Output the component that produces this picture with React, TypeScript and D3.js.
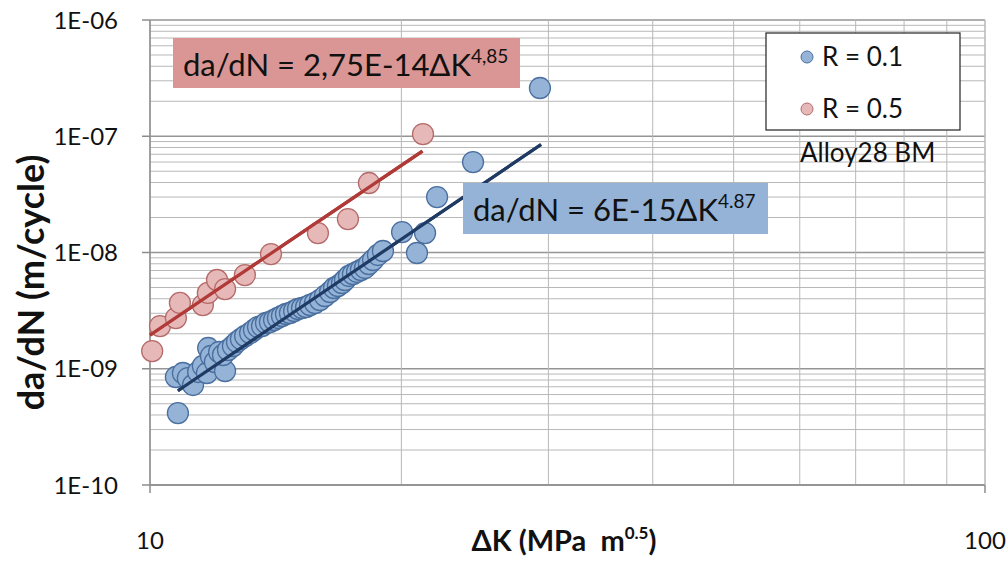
import React from "react";
import * as d3 from "d3";

// ---- Data ----
const seriesR01Label = "R = 0.1";
const seriesR05Label = "R = 0.5";

// R = 0.5 : [ΔK (MPa m^0.5), da/dN (m/cycle)]
const dataR05: [number, number][] = [
  [10.06, 1.42e-9], [10.28, 2.33e-9], [10.74, 2.73e-9], [10.86, 3.68e-9],
  [11.57, 3.53e-9], [11.73, 4.49e-9], [12.03, 5.8e-9], [12.3, 4.85e-9],
  [12.99, 6.4e-9], [13.96, 9.7e-9], [15.89, 1.47e-8], [17.26, 1.94e-8],
  [18.29, 3.96e-8], [21.23, 1.045e-7],
];

// R = 0.1
const dataR01: [number, number][] = [
  [10.8, 4.16e-10], [10.74, 8.49e-10], [10.95, 9.19e-10], [11.1, 8.32e-10],
  [11.26, 7.25e-10], [11.42, 9.38e-10], [11.57, 1.056e-9], [11.7, 9.19e-10],
  [11.74, 1.508e-9], [11.83, 1.287e-9], [11.96, 1.143e-9], [12.1, 1.393e-9],
  [12.3, 9.56e-10], [12.23, 1.313e-9], [12.4, 1.45e-9], [12.57, 1.569e-9],
  [12.71, 1.699e-9], [12.85, 1.803e-9], [13.0, 1.913e-9], [13.18, 2.03e-9],
  [13.32, 2.154e-9], [13.47, 2.286e-9], [13.62, 2.332e-9], [13.77, 2.475e-9],
  [13.92, 2.524e-9], [14.08, 2.626e-9], [14.23, 2.733e-9], [14.39, 2.843e-9],
  [14.55, 2.958e-9], [14.71, 3.017e-9], [14.88, 3.139e-9], [15.04, 3.266e-9],
  [15.21, 3.331e-9], [15.38, 3.398e-9], [15.55, 3.535e-9], [15.76, 3.678e-9],
  [15.98, 3.903e-9], [16.2, 4.224e-9], [16.43, 4.573e-9], [16.61, 4.95e-9],
  [16.79, 5.15e-9], [16.98, 5.465e-9], [17.12, 5.8e-9], [17.31, 6.28e-9],
  [17.5, 6.53e-9], [17.7, 6.8e-9], [17.89, 7.07e-9], [18.09, 7.36e-9],
  [18.29, 7.96e-9], [18.5, 8.62e-9], [18.75, 9.52e-9], [19.01, 1.03e-8],
  [20.04, 1.5e-8], [20.88, 9.9e-9], [21.35, 1.47e-8], [22.07, 3.0e-8],
  [24.37, 6.0e-8], [29.31, 2.6e-7],
];

// Power-law fits da/dN = C * ΔK^m
const fitR05 = { C: 2.75e-14, m: 4.85, kMin: 10, kMax: 21.2 };
const fitR01 = { C: 6e-15, m: 4.87, kMin: 10.8, kMax: 29.4 };
const eqR05Main = "da/dN = 2,75E-14ΔK";
const eqR05Exp = "4,85";
const eqR01Main = "da/dN = 6E-15ΔK";
const eqR01Exp = "4.87";

const xTickValues = [10, 100];
const xTickLabels = ["10", "100"];
const yTickValues = [1e-10, 1e-9, 1e-8, 1e-7, 1e-6];
const yTickLabels = ["1E-10", "1E-09", "1E-08", "1E-07", "1E-06"];
const annotation = "Alloy28 BM";

// ---- Layout ----
const W = 1007;
const H = 561;
const L = 150, R = 985, T = 20, B = 485;
const FONT = "Lato, 'Open Sans', sans-serif";

export default function App() {
  const x = d3.scaleLog().domain([10, 100]).range([L, R]);
  const y = d3.scaleLog().domain([1e-10, 1e-6]).range([B, T]);

  const vGrid: number[] = [];
  for (let k = 10; k <= 100; k += 10) vGrid.push(k);
  const hMinor: number[] = [];
  for (let e = -10; e < -6; e++) {
    for (let m = 2; m <= 9; m++) hMinor.push(m * Math.pow(10, e));
  }

  const fitLine = (f: { C: number; m: number; kMin: number; kMax: number }) => {
    const pts: [number, number][] = [f.kMin, f.kMax].map((k) => [k, f.C * Math.pow(k, f.m)]);
    return d3.line<[number, number]>().x((d) => x(d[0])).y((d) => y(d[1]))(pts) || "";
  };

  const blueFill = "#95b3d7";
  const blueStroke = "#4a6f9f";
  const redFill = "#e6b9b8";
  const redStroke = "#b56b6a";

  return (
    <svg width={W} height={H} style={{ position: "absolute", left: 0, top: 0, background: "#fff" }} fontFamily={FONT}>
      {/* minor horizontal grid */}
      {hMinor.map((v, i) => (
        <line key={"hm" + i} x1={L} x2={R} y1={y(v)} y2={y(v)} stroke="#b8b8b8" strokeWidth={1} />
      ))}
      {/* major horizontal grid */}
      {yTickValues.map((v, i) => (
        <line key={"hM" + i} x1={L} x2={R} y1={y(v)} y2={y(v)} stroke="#959595" strokeWidth={1.3} />
      ))}
      {/* vertical grid */}
      {vGrid.map((v, i) => (
        <line key={"v" + i} x1={x(v)} x2={x(v)} y1={T} y2={B} stroke="#b8b8b8" strokeWidth={1} />
      ))}
      {/* axes */}
      <line x1={L} x2={L} y1={T} y2={B} stroke="#8c8c8c" strokeWidth={1.5} />
      <line x1={L} x2={R} y1={B} y2={B} stroke="#8c8c8c" strokeWidth={1.5} />
      <line x1={R} x2={R} y1={T} y2={B} stroke="#b8b8b8" strokeWidth={1} />
      {yTickValues.map((v, i) => (
        <line key={"yt" + i} x1={L - 8} x2={L} y1={y(v)} y2={y(v)} stroke="#8c8c8c" strokeWidth={1.5} />
      ))}
      {xTickValues.map((v, i) => (
        <line key={"xt" + i} x1={x(v)} x2={x(v)} y1={B} y2={B + 8} stroke="#8c8c8c" strokeWidth={1.5} />
      ))}
      {/* tick labels */}
      {yTickValues.map((v, i) => (
        <text key={"yl" + i} x={L - 32} y={y(v)} dy="0.36em" textAnchor="end" fontSize={24} fill="#111">
          {yTickLabels[i]}
        </text>
      ))}
      {xTickValues.map((v, i) => (
        <text key={"xl" + i} x={x(v)} y={549} textAnchor="middle" fontSize={24} fill="#111">
          {xTickLabels[i]}
        </text>
      ))}
      {/* axis titles */}
      <text transform={`translate(44,${(T + B) / 2 + 30}) rotate(-90)`} textAnchor="middle" fontSize={36} fontWeight="bold" fill="#111">
        da/dN (m/cycle)
      </text>
      <text x={564} y={551} textAnchor="middle" fontSize={29} fontWeight="bold" fill="#111" style={{ whiteSpace: "pre" }}>
        {"ΔK (MPa  m"}
        <tspan fontSize={17} dy={-12}>0.5</tspan>
        <tspan dy={12}>)</tspan>
      </text>

      {/* trend lines */}
      <path d={fitLine(fitR05)} stroke="#b03a37" strokeWidth={3.2} fill="none" />
      <path d={fitLine(fitR01)} stroke="#1f3a63" strokeWidth={3.2} fill="none" />

      {/* points */}
      {dataR05.map((d, i) => (
        <circle key={"r" + i} cx={x(d[0])} cy={y(d[1])} r={10.5} fill={redFill} stroke={redStroke} strokeWidth={1.3} />
      ))}
      {dataR01.map((d, i) => (
        <circle key={"b" + i} cx={x(d[0])} cy={y(d[1])} r={10.5} fill={blueFill} stroke={blueStroke} strokeWidth={1.3} />
      ))}
      {/* fit drawn over markers */}
      <path d={fitLine(fitR05)} stroke="#b03a37" strokeWidth={3.2} fill="none" />
      <path d={fitLine(fitR01)} stroke="#1f3a63" strokeWidth={3.2} fill="none" />

      {/* equation labels */}
      <rect x={173} y={38} width={347} height={50} fill="#d99694" />
      <text x={183} y={76} fontSize={31} fill="#111">
        {eqR05Main}
        <tspan fontSize={19} dy={-13}>{eqR05Exp}</tspan>
      </text>
      <rect x={463} y={183} width={305} height={51} fill="#95b3d7" />
      <text x={473} y={221} fontSize={31} fill="#111">
        {eqR01Main}
        <tspan fontSize={19} dy={-13}>{eqR01Exp}</tspan>
      </text>

      {/* legend */}
      <rect x={766} y={33} width={194} height={97} fill="#fff" stroke="#222" strokeWidth={1.2} />
      <circle cx={807} cy={57} r={6} fill={blueFill} stroke={blueStroke} strokeWidth={1} />
      <text x={822} y={57} dy="0.36em" fontSize={26} fill="#111">{seriesR01Label}</text>
      <circle cx={807} cy={109} r={6} fill={redFill} stroke={redStroke} strokeWidth={1} />
      <text x={822} y={109} dy="0.36em" fontSize={26} fill="#111">{seriesR05Label}</text>
      <text x={800} y={162} fontSize={26} fill="#111">{annotation}</text>
    </svg>
  );
}
